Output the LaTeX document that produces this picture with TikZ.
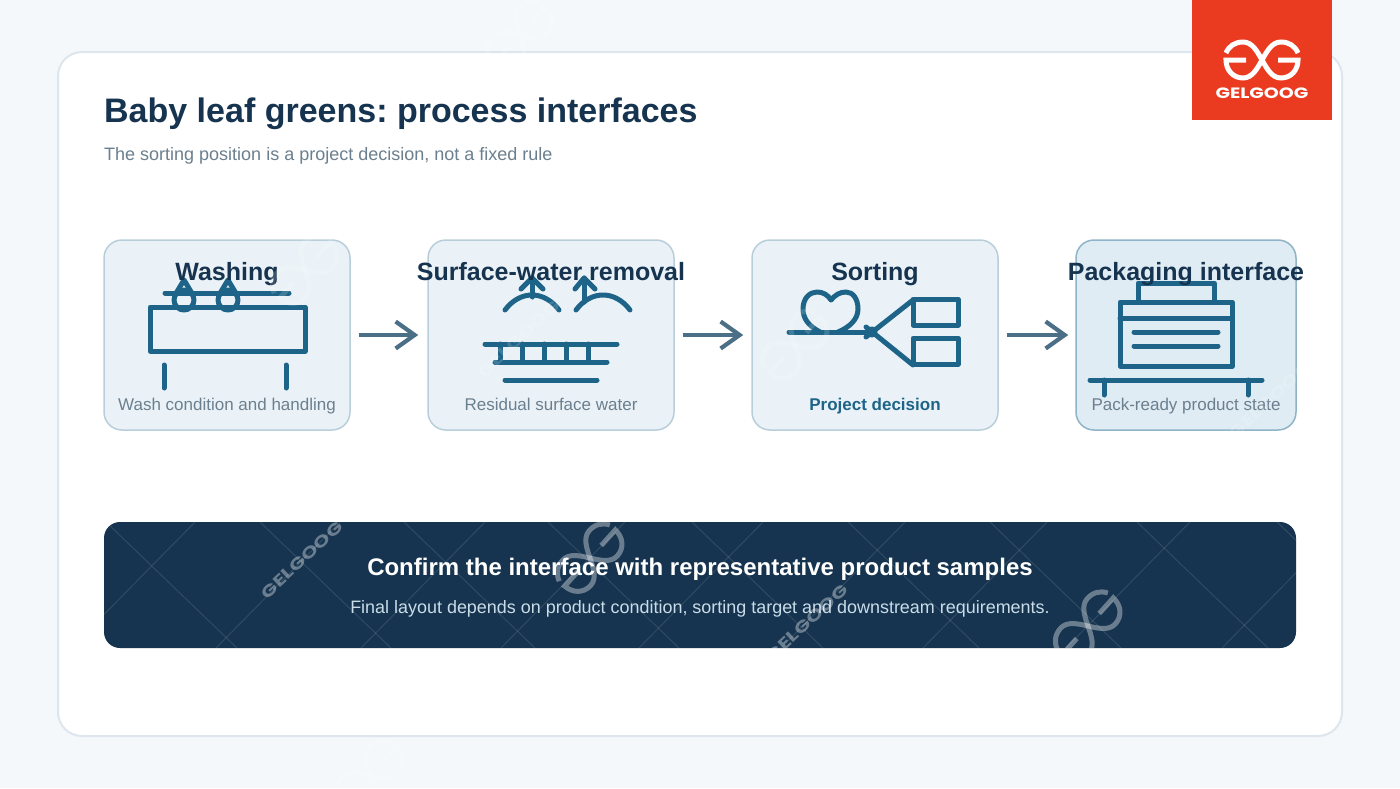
\documentclass[tikz,border=0pt]{standalone}
\usepackage{fontspec}
\setmainfont{Liberation Sans}
\newfontfamily\logofont{Poppins}
\usetikzlibrary{arrows.meta}
\definecolor{pagebg}{HTML}{F4F8FB}
\definecolor{panelline}{HTML}{DDE6EC}
\definecolor{cardfill}{HTML}{EAF2F7}
\definecolor{cardline}{HTML}{B9CEDB}
\definecolor{packfill}{HTML}{E0ECF4}
\definecolor{packline}{HTML}{8FB3C7}
\definecolor{navy}{HTML}{16344F}
\definecolor{iconblue}{HTML}{1E6488}
\definecolor{arrowblue}{HTML}{4A6F87}
\definecolor{subgray}{HTML}{6B7F8E}
\definecolor{logored}{HTML}{EA3A20}
\definecolor{bannersub}{HTML}{C9DCE8}
\tikzset{
  card/.style={draw=cardline,fill=cardfill,line width=1.5pt,rounded corners=18pt,minimum width=246pt,minimum height=190pt,inner sep=0pt},
  cardtitle/.style={navy,font=\fontsize{25}{25}\selectfont\bfseries,anchor=base,inner sep=0pt},
  cardnote/.style={subgray,font=\fontsize{17}{17}\selectfont,anchor=base,inner sep=0pt},
  icon/.style={iconblue,line width=5pt,line cap=round,line join=round},
  flow/.style={arrowblue,line width=4.2pt,-{Straight Barb[length=19pt,width=27pt]}},
  lattice/.style={white,opacity=.11,line width=1pt},
  stamp/.style={white,opacity=.36,line width=5pt,rotate=48,scale=1.05},
  stamptext/.style={white,opacity=.36,font=\logofont\fontsize{16}{16}\selectfont\bfseries,inner sep=0pt,rotate=43,xscale=1.35},
  faint/.style={opacity=.16},
  gglogo/.pic={
    \draw (-36,-7) .. controls (-33,-14) and (-27,-18) .. (-19,-18) .. controls (-10,-18) and (-5,-9) .. (0,0) .. controls (5,9) and (10,18) .. (19,18) .. controls (29,18) and (36,10) .. (36,0) -- (16,0);
    \draw (36,-7) .. controls (33,-14) and (27,-18) .. (19,-18) .. controls (10,-18) and (5,-9) .. (0,0) .. controls (-5,9) and (-10,18) .. (-19,18) .. controls (-29,18) and (-36,10) .. (-36,0) -- (-16,0);
  }
}
\frenchspacing
\begin{document}
\begin{tikzpicture}[x=1pt,y=-1pt,>=stealth]
\useasboundingbox (0,0) rectangle (1400,788);
\fill[pagebg] (0,0) rectangle (1400,788);
\draw[fill=white,draw=panelline,line width=2pt,rounded corners=24pt] (58,52) rectangle (1342,736);
\fill[logored] (1192,0) rectangle (1332,120);
\pic[white,line width=5pt] at (1262,60) {gglogo};
\node[white,font=\logofont\fontsize{15}{15}\selectfont\bfseries,anchor=base,inner sep=0pt,xscale=1.27] (logoname) at (1262,98) {GELGOOG};

\node[navy,font=\fontsize{34}{34}\selectfont\bfseries,anchor=base west,inner sep=0pt] (pagetitle) at (104,122) {Baby leaf greens: process interfaces};
\node[subgray,font=\fontsize{18}{18}\selectfont,anchor=base west,inner sep=0pt] (pagesub) at (104,160) {The sorting position is a project decision, not a fixed rule};

\node[card] (washcard) at (227,335) {};
\node[card] (dewatercard) at (551,335) {};
\node[card] (sortcard) at (875,335) {};
\node[card,fill=packfill,draw=packline,minimum width=220pt] (packcard) at (1186,335) {};

\draw[flow,shorten <=8pt,shorten >=9pt] (washcard) -- (dewatercard);
\draw[flow,shorten <=8pt,shorten >=8pt] (dewatercard) -- (sortcard);
\draw[flow,shorten <=8pt,shorten >=7pt] (sortcard) -- (packcard);

% washing
\draw[icon] (150,307) rectangle (305,351);
\draw[icon] (165,293) -- (289,293);
\foreach \x in {184,228}{
  \draw[icon] (\x,300) circle (10);
  \draw[icon] (\x-9,295) -- (\x,280) -- (\x+9,295);
}
\draw[icon] (164,365) -- (164,388);
\draw[icon] (286,365) -- (286,388);
% surface water
\draw[icon] (505,310) .. controls (520,290) and (544,290) .. (559,310);
\draw[icon] (576,310) .. controls (591,290) and (615,290) .. (630,310);
\draw[icon] (532,297) -- (532,278);
\draw[icon] (521,289) -- (532,278) -- (543,289);
\draw[icon] (584,302) -- (584,278);
\draw[icon] (575,289) -- (584,278) -- (595,289);
\draw[icon] (485,344) -- (617,344);
\draw[icon] (495,362) -- (607,362);
\draw[icon] (505,380) -- (597,380);
\foreach \x in {500,522,544,566,588}
  \draw[icon] (\x,344) -- (\x,362);
% sorting
\draw[icon] (789,332) -- (872,332);
\draw[icon] (820,332) .. controls (809,326) and (803,319) .. (803,309) .. controls (803,298) and (810,292) .. (817,292) .. controls (823,292) and (828,295) .. (831,300) .. controls (835,295) and (840,292) .. (846,292) .. controls (853,292) and (858,299) .. (858,309) .. controls (858,319) and (850,327) .. (838,332);
\draw[icon] (866,337) -- (913,300);
\draw[icon] (866,327) -- (913,365);
\draw[icon] (872,332) circle (3);
\draw[icon] (913,299) rectangle (958,325);
\draw[icon] (913,338) rectangle (958,364);
% packaging
\draw[icon] (1120,302) rectangle (1232,366);
\draw[icon] (1138,302) -- (1138,283) -- (1214,283) -- (1214,302);
\draw[icon] (1120,318) -- (1232,318);
\draw[icon] (1134,332) -- (1218,332);
\draw[icon] (1134,346) -- (1218,346);
\draw[icon] (1090,380) -- (1262,380);
\draw[icon] (1104,380) -- (1104,395);
\draw[icon] (1248,380) -- (1248,395);

\node[cardtitle] (washtitle) at (227,280) {Washing};
\node[cardtitle] (dewatertitle) at (551,280) {Surface-water removal};
\node[cardtitle] (sorttitle) at (875,280) {Sorting};
\node[cardtitle] (packtitle) at (1186,280) {Packaging interface};
\node[cardnote] (washnote) at (227,410) {Wash condition and handling};
\node[cardnote] (dewaternote) at (551,410) {Residual surface water};
\node[cardnote,iconblue,font=\fontsize{17}{17}\selectfont\bfseries] (sortnote) at (875,410) {Project decision};
\node[cardnote] (packnote) at (1186,410) {Pack-ready product state};

\fill[navy,rounded corners=16pt] (104,522) rectangle (1296,648);
\begin{scope}
\clip[rounded corners=16pt] (104,522) rectangle (1296,648);
\foreach \x in {106,260,404,548,692,848,990,1137,1277}
  \draw[lattice] (\x,522) -- (\x+131,648);
\foreach \x in {195,340,485,625,763,905,1047,1190,1346}
  \draw[lattice] (\x,522) -- (\x-124,648);
\end{scope}
\node[white,font=\fontsize{24}{24}\selectfont\bfseries,anchor=base,inner sep=0pt] (bannertitle) at (700,575) {Confirm the interface with representative product samples};
\node[bannersub,font=\fontsize{17.95}{18}\selectfont,anchor=base,inner sep=0pt] (bannernote) at (700,613) {Final layout depends on product condition, sorting target and downstream requirements.};
\begin{scope}
\clip[rounded corners=16pt] (104,522) rectangle (1296,648);
\pic[stamp] at (590,558) {gglogo};
\pic[stamp] at (1088,626) {gglogo};
\node[stamptext] (stampa) at (302,560) {GELGOOG};
\node[stamptext] (stampb) at (807,623) {GELGOOG};
\end{scope}
\foreach \x/\y in {305/270,795/345,520/35,370/775}
  \pic[stamp,faint] at (\x,\y) {gglogo};
\node[stamptext,faint] (stampc) at (519,339) {GELGOOG};
\node[stamptext,faint] (stampe) at (1270,400) {GELGOOG};
\end{tikzpicture}
\end{document}
